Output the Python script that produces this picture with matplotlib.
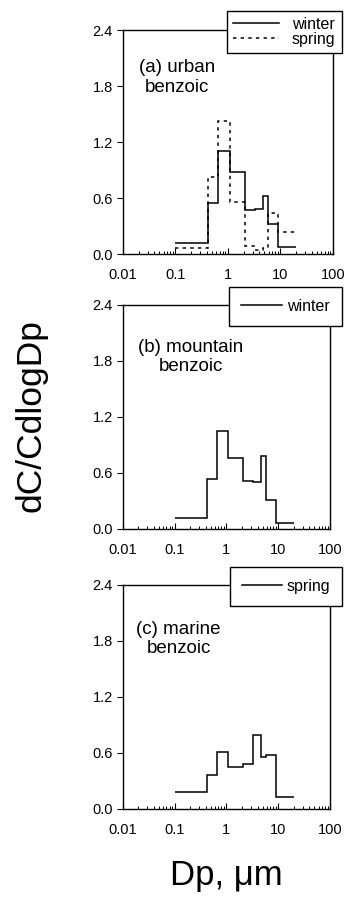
import matplotlib.pyplot as plt
from matplotlib.ticker import LogLocator, NullFormatter, FixedLocator

plt.rcParams["font.family"] = ["Liberation Sans", "DejaVu Sans"]

# impactor stage boundaries (um)
edges = [0.1, 0.43, 0.65, 1.1, 2.1, 3.3, 4.7, 5.8, 9.0, 20]

# dC/CdlogDp per stage
urban_winter = [0.12, 0.55, 1.10, 0.88, 0.47, 0.48, 0.62, 0.32, 0.07]
urban_spring = [0.06, 0.82, 1.42, 0.56, 0.09, 0.04, 0.06, 0.44, 0.24]
mountain_winter = [0.12, 0.54, 1.05, 0.76, 0.51, 0.50, 0.78, 0.31, 0.06]
marine_spring = [0.18, 0.36, 0.61, 0.45, 0.48, 0.79, 0.56, 0.58, 0.13]

x_ticks = [0.01, 0.1, 1, 10, 100]
x_labels = ["0.01", "0.1", "1", "10", "100"]
y_ticks = [0.0, 0.6, 1.2, 1.8, 2.4]
y_labels = ["0.0", "0.6", "1.2", "1.8", "2.4"]

W, H = 346, 902
fig = plt.figure(figsize=(W / 100, H / 100), dpi=100)
DASH = (0, (2.2, 2.8))


def make_axes(left, right, top, bottom):
    ax = fig.add_axes([left / W, 1 - bottom / H, (right - left) / W, (bottom - top) / H])
    ax.set_xscale("log")
    ax.set_xlim(0.01, 100)
    ax.set_ylim(0, 2.4)
    ax.xaxis.set_major_locator(FixedLocator(x_ticks))
    ax.set_xticklabels(x_labels)
    ax.xaxis.set_minor_locator(LogLocator(base=10, subs=range(2, 10)))
    ax.xaxis.set_minor_formatter(NullFormatter())
    ax.set_yticks(y_ticks)
    ax.set_yticklabels(y_labels)
    ax.tick_params(axis="x", which="major", direction="in", length=4, width=0.8,
                   labelsize=10.5, pad=10)
    ax.tick_params(axis="x", which="minor", direction="in", length=2.5, width=0.7)
    ax.tick_params(axis="y", direction="out", length=4, width=0.8, labelsize=10.5, pad=3)
    for s in ax.spines.values():
        s.set_linewidth(1.0)
    return ax


def add_legend(ax, handles, labels, top_y, **kw):
    leg = ax.legend(handles, labels, loc="upper right",
                    bbox_to_anchor=(342 / W, 1 - top_y / H),
                    bbox_transform=fig.transFigure,
                    fontsize=11.5, labelspacing=0.0, fancybox=False,
                    framealpha=1, edgecolor="black", borderaxespad=0, **kw)
    leg.get_frame().set_linewidth(1.0)
    leg.set_zorder(10)


# (a) urban
ax1 = make_axes(122.7, 332.7, 30, 254)
ax1.stairs(urban_winter, edges, baseline=None, color="black", lw=1.1)
ax1.stairs(urban_spring, edges, baseline=None, color="black", lw=1.1, linestyle=DASH)
h1, = ax1.plot([], [], color="black", lw=1.1)
h2, = ax1.plot([], [], color="black", lw=1.1, linestyle=DASH)
add_legend(ax1, [h1, h2], ["winter", "spring"], 10.7,
           borderpad=0.4, handlelength=2.9, handletextpad=0.8)
ax1.text(0.26, 0.87, "(a) urban\nbenzoic", transform=ax1.transAxes,
         ha="center", va="top", multialignment="center", fontsize=13.5)

# (b) mountain
ax2 = make_axes(122.7, 330, 305, 529)
ax2.stairs(mountain_winter, edges, baseline=None, color="black", lw=1.1)
h3, = ax2.plot([], [], color="black", lw=1.1)
add_legend(ax2, [h3], ["winter"], 287,
           borderpad=0.75, handlelength=2.6, handletextpad=0.3)
ax2.text(0.33, 0.85, "(b) mountain\nbenzoic", transform=ax2.transAxes,
         ha="center", va="top", multialignment="center", fontsize=13.5)

# (c) marine
ax3 = make_axes(122.7, 330, 585, 809)
ax3.stairs(marine_spring, edges, baseline=None, color="black", lw=1.1)
h4, = ax3.plot([], [], color="black", lw=1.1)
add_legend(ax3, [h4], ["spring"], 567,
           borderpad=0.75, handlelength=2.5, handletextpad=0.3)
ax3.text(0.27, 0.84, "(c) marine\nbenzoic", transform=ax3.transAxes,
         ha="center", va="top", multialignment="center", fontsize=13.5)

fig.text(31 / W, 1 - 416 / H, "dC/CdlogDp", rotation=90, ha="center", va="center",
         fontsize=25.5)
fig.text(226 / W, 1 - 876 / H, "Dp, \u03bcm", ha="center", va="center", fontsize=25)

fig.savefig("out.png", dpi=100)
